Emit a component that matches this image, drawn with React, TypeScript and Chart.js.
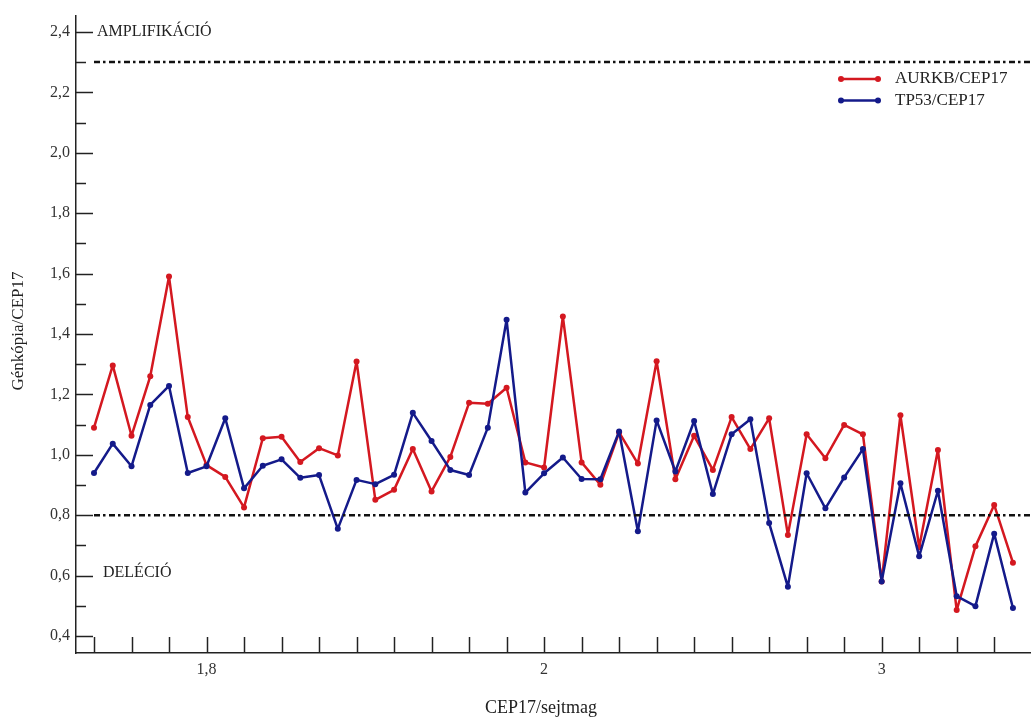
import React, { useEffect, useRef } from 'react';
import { Chart, registerables } from 'chart.js';

Chart.register(...registerables);

// ---- data ----
const aurkb = [
  1.09, 1.296, 1.063, 1.26, 1.59, 1.125, 0.966, 0.927, 0.826, 1.055, 1.06, 0.976, 1.022, 0.998, 1.309, 0.851,
  0.884, 1.019, 0.879, 0.993, 1.172, 1.169, 1.222, 0.975, 0.958, 1.458, 0.975, 0.901, 1.074, 0.971, 1.31, 0.919, 1.063,
  0.95, 1.125, 1.019, 1.121, 0.735, 1.068, 0.989, 1.099, 1.068, 0.581, 1.131, 0.694, 1.016, 0.486, 0.697, 0.834, 0.643,
];
const tp53 = [
  0.94, 1.037, 0.962, 1.165, 1.228, 0.94, 0.962, 1.121, 0.889, 0.964, 0.985, 0.924, 0.933, 0.755, 0.917, 0.903,
  0.934, 1.139, 1.046, 0.95, 0.933, 1.09, 1.447, 0.875, 0.939, 0.991, 0.92, 0.919, 1.077, 0.747, 1.114, 0.945, 1.112,
  0.87, 1.068, 1.118, 0.774, 0.563, 0.939, 0.823, 0.925, 1.019, 0.581, 0.906, 0.664, 0.881, 0.532, 0.499, 0.739, 0.493,
];
const seriesNames = ['AURKB/CEP17', 'TP53/CEP17'];
const xLabelIndex = [6, 24, 42];
const xLabelText = ['1,8', '2', '3'];
const xTickIndex = [0, 2, 4, 6, 8, 10, 12, 14, 16, 18, 20, 22, 24, 26, 28, 30, 32, 34, 36, 38, 40, 42, 44, 46, 48];
const yTickValues = [0.4, 0.6, 0.8, 1.0, 1.2, 1.4, 1.6, 1.8, 2.0, 2.2, 2.4];
const yTickLabels = ['0,4', '0,6', '0,8', '1,0', '1,2', '1,4', '1,6', '1,8', '2,0', '2,2', '2,4'];
const yMinorTicks = [0.5, 0.7, 0.9, 1.1, 1.3, 1.5, 1.7, 1.9, 2.1, 2.3];
const thresholds = [2.3, 0.8];
const thresholdLabels = ['AMPLIFIKÁCIÓ', 'DELÉCIÓ'];
const xTitle = 'CEP17/sejtmag';
const yTitle = 'Génkópia/CEP17';

const RED = '#d41820';
const BLUE = '#141a8a';
const FONT = "'Liberation Serif', 'Times New Roman', serif";

const overlay = {
  id: 'overlay',
  afterDatasetsDraw(chart: any) {
    const { ctx, chartArea, scales } = chart;
    const x = scales.x;
    const y = scales.y;
    ctx.save();
    // threshold lines
    ctx.strokeStyle = '#111';
    ctx.lineWidth = 2.5;
    ctx.setLineDash([6, 3, 2.5, 3.5]);
    thresholds.forEach((v) => {
      const py = y.getPixelForValue(v);
      ctx.beginPath();
      ctx.moveTo(x.getPixelForValue(0), py);
      ctx.lineTo(chartArea.right, py);
      ctx.stroke();
    });
    ctx.setLineDash([]);
    // inward tick marks
    ctx.strokeStyle = '#222';
    ctx.lineWidth = 1.5;
    yTickValues.forEach((v) => {
      const py = Math.round(y.getPixelForValue(v)) + 0.5;
      ctx.beginPath();
      ctx.moveTo(chartArea.left, py);
      ctx.lineTo(chartArea.left + 17, py);
      ctx.stroke();
    });
    yMinorTicks.forEach((v) => {
      const py = Math.round(y.getPixelForValue(v)) + 0.5;
      ctx.beginPath();
      ctx.moveTo(chartArea.left, py);
      ctx.lineTo(chartArea.left + 10, py);
      ctx.stroke();
    });
    xTickIndex.forEach((i) => {
      const px = Math.round(x.getPixelForValue(i)) + 0.5;
      ctx.beginPath();
      ctx.moveTo(px, chartArea.bottom);
      ctx.lineTo(px, chartArea.bottom - 16);
      ctx.stroke();
    });
    // threshold annotations
    ctx.fillStyle = '#222';
    ctx.font = `16px ${FONT}`;
    ctx.textBaseline = 'middle';
    ctx.textAlign = 'left';
    ctx.fillText(thresholdLabels[0], chartArea.left + 21, y.getPixelForValue(2.4));
    ctx.fillText(thresholdLabels[1], chartArea.left + 27, y.getPixelForValue(0.61));
    // legend
    const colors = [RED, BLUE];
    ctx.font = `17px ${FONT}`;
    seriesNames.forEach((name, k) => {
      const ly = 79 + k * 21.5;
      ctx.strokeStyle = colors[k];
      ctx.fillStyle = colors[k];
      ctx.lineWidth = 2.5;
      ctx.beginPath();
      ctx.moveTo(841, ly);
      ctx.lineTo(878, ly);
      ctx.stroke();
      [841, 878].forEach((px) => {
        ctx.beginPath();
        ctx.arc(px, ly, 3, 0, Math.PI * 2);
        ctx.fill();
      });
      ctx.fillStyle = '#222';
      ctx.fillText(name, 895, ly);
    });
    // axis titles
    ctx.textAlign = 'center';
    ctx.font = `18px ${FONT}`;
    ctx.fillText(xTitle, (chartArea.left + chartArea.right) / 2 - 12, 708);
    ctx.font = `17px ${FONT}`;
    ctx.translate(19, 331);
    ctx.rotate(-Math.PI / 2);
    ctx.fillText(yTitle, 0, 0);
    ctx.restore();
  },
};

export default function App() {
  const ref = useRef<HTMLCanvasElement | null>(null);
  useEffect(() => {
    if (!ref.current) return;
    const common = {
      borderWidth: 2.5,
      pointRadius: 3,
      pointBorderWidth: 0,
      pointHoverRadius: 3,
      tension: 0,
      borderJoinStyle: 'round' as const,
    };
    const chart = new Chart(ref.current, {
      type: 'line',
      data: {
        datasets: [
          {
            ...common,
            label: seriesNames[1],
            data: tp53.map((v, i) => ({ x: i, y: v })),
            borderColor: BLUE,
            backgroundColor: BLUE,
            order: 0,
          },
          {
            ...common,
            label: seriesNames[0],
            data: aurkb.map((v, i) => ({ x: i, y: v })),
            borderColor: RED,
            backgroundColor: RED,
            order: 1,
          },
        ],
      },
      options: {
        animation: false,
        responsive: false,
        devicePixelRatio: 1,
        layout: { padding: { top: 13, right: 4, left: 0, bottom: 0 } },
        plugins: { legend: { display: false }, tooltip: { enabled: false } },
        scales: {
          x: {
            type: 'linear',
            min: -0.96,
            max: 49.91,
            grid: { display: false, drawTicks: false },
            border: { display: true, color: '#222', width: 1.5 },
            afterBuildTicks: (scale: any) => {
              scale.ticks = xLabelIndex.map((v) => ({ value: v }));
            },
            afterFit: (scale: any) => {
              scale.height = 64;
            },
            ticks: {
              autoSkip: false,
              maxRotation: 0,
              padding: 7,
              color: '#333',
              font: { family: FONT, size: 16 },
              callback: (value: any) => {
                const k = xLabelIndex.indexOf(Number(value));
                return k >= 0 ? xLabelText[k] : '';
              },
            },
          },
          y: {
            type: 'linear',
            min: 0.344,
            max: 2.454,
            grid: { display: false, drawTicks: false },
            border: { display: true, color: '#222', width: 1.5 },
            afterBuildTicks: (scale: any) => {
              scale.ticks = yTickValues.map((v) => ({ value: v }));
            },
            afterFit: (scale: any) => {
              scale.width = 76;
            },
            ticks: {
              autoSkip: false,
              padding: 6,
              color: '#333',
              font: { family: FONT, size: 16 },
              callback: (value: any) => {
                const k = yTickValues.findIndex((t) => Math.abs(t - Number(value)) < 1e-6);
                return k >= 0 ? yTickLabels[k] : '';
              },
            },
          },
        },
      },
      plugins: [overlay],
    });
    return () => chart.destroy();
  }, []);
  return (
    <div style={{ position: 'absolute', left: 0, top: 0, width: 1034, height: 717, background: '#fff' }}>
      <canvas ref={ref} width={1034} height={717} style={{ width: 1034, height: 717, display: 'block' }} />
    </div>
  );
}
